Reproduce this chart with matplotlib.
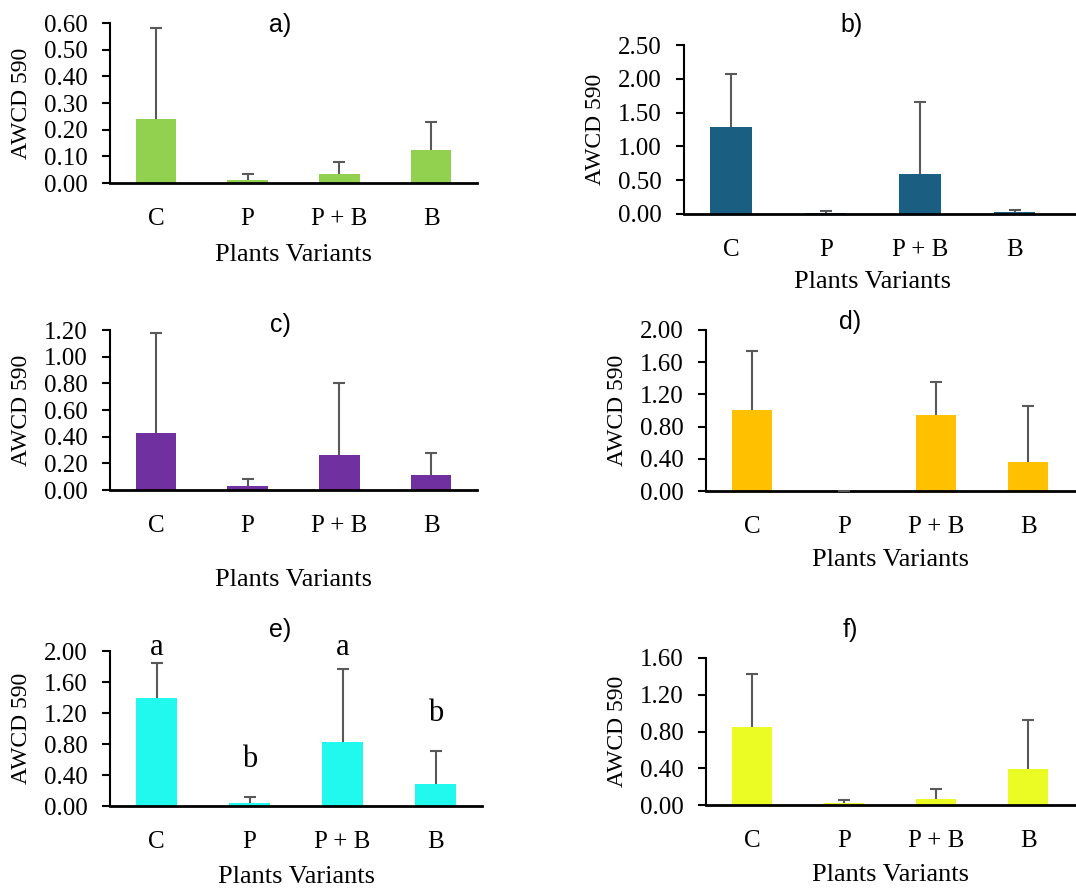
import matplotlib
matplotlib.use("Agg")
import matplotlib.pyplot as plt

categories = ["C", "P", "P + B", "B"]

# values and upper error-bar lengths
vals_a = [0.24, 0.012, 0.035, 0.125]
err_a = [0.34, 0.023, 0.043, 0.105]
vals_b = [1.28, 0.01, 0.59, 0.03]
err_b = [0.79, 0.03, 1.06, 0.03]
vals_c = [0.43, 0.03, 0.26, 0.115]
err_c = [0.745, 0.05, 0.54, 0.165]
vals_d = [1.01, 0.0, 0.95, 0.36]
err_d = [0.73, 0.0, 0.40, 0.69]
vals_e = [1.39, 0.04, 0.83, 0.29]
err_e = [0.45, 0.07, 0.94, 0.42]
letters_e = ["a", "b", "a", "b"]
letter_y_e = [2.05, 0.60, 2.05, 1.20]
vals_f = [0.85, 0.02, 0.065, 0.39]
err_f = [0.58, 0.03, 0.105, 0.54]

colors = {"a": "#92D050", "b": "#1A5F82", "c": "#7030A0",
          "d": "#FFC000", "e": "#22F9EE", "f": "#EBFC24"}

W, H = 1076, 888
fig = plt.figure(figsize=(W / 100, H / 100), dpi=100)
serif = ["Liberation Serif", "DejaVu Serif"]
sans = ["Liberation Sans", "DejaVu Sans"]

# panel specs: pixel box (left, right, top, bottom), ylim, ticks, xlim upper, title pos (px), xlabel y (px)
panels = [
    ("a", vals_a, err_a, (110, 477, 23, 183), 0.60, [0, 0.1, 0.2, 0.3, 0.4, 0.5, 0.6], 3.5, (280, 25), 255),
    ("b", vals_b, err_b, (684, 1076, 45, 214), 2.50, [0, 0.5, 1.0, 1.5, 2.0, 2.5], 3.65, (852, 25), 282),
    ("c", vals_c, err_c, (110, 477, 330, 490), 1.20, [0, 0.2, 0.4, 0.6, 0.8, 1.0, 1.2], 3.5, (280, 325), 580),
    ("d", vals_d, err_d, (706, 1076, 330, 491), 2.00, [0, 0.4, 0.8, 1.2, 1.6, 2.0], 3.52, (850, 322), 560),
    ("e", vals_e, err_e, (110, 482, 651, 806), 2.00, [0, 0.4, 0.8, 1.2, 1.6, 2.0], 3.5, (280, 630), 877),
    ("f", vals_f, err_f, (706, 1076, 658, 805), 1.60, [0, 0.4, 0.8, 1.2, 1.6], 3.52, (850, 630), 875),
]

for key, vals, errs, (l, r, t, b), ymax, ticks, xup, (tx, ty), xly in panels:
    ax = fig.add_axes([l / W, 1 - b / H, (r - l) / W, (b - t) / H])
    x = list(range(len(categories)))
    ax.bar(x, vals, width=0.44, color=colors[key], zorder=2)
    _, caps, _ = ax.errorbar(x, vals, yerr=[[0] * len(vals), errs], fmt="none",
                             ecolor="#595959", elinewidth=1.5, capsize=4,
                             capthick=1.5, zorder=3)
    if len(caps) == 2:
        caps[0].set_visible(False)
    ax.set_xlim(-0.5, xup)
    ax.set_ylim(0, ymax)
    ax.set_yticks(ticks)
    ax.set_yticklabels([f"{v:.2f}" for v in ticks], fontfamily=serif, fontsize=18)
    ax.set_xticks(x)
    ax.set_xticklabels(categories, fontfamily=serif, fontsize=18)
    ax.tick_params(axis="x", length=0, pad=18)
    ax.tick_params(axis="y", length=6, width=1.5, pad=10, direction="out")
    for s in ["top", "right"]:
        ax.spines[s].set_visible(False)
    ax.spines["left"].set_linewidth(1.5)
    ax.spines["bottom"].set_linewidth(2)
    ax.set_ylabel("AWCD 590", fontfamily=serif, fontsize=17, labelpad=9)
    ax.patch.set_alpha(0)
    cx = (l + (l + (r - l) * 4.0 / (xup + 0.5))) / 2
    fig.text(cx / W, 1 - xly / H, "Plants Variants", fontfamily=serif, fontsize=19,
             ha="center", va="center")
    fig.text(tx / W, 1 - ty / H, f"{key})", fontfamily=sans, fontsize=18,
             ha="center", va="center")
    if key == "e":
        for xi, lab, ly in zip(x, letters_e, letter_y_e):
            ax.text(xi, ly, lab, fontfamily=serif, fontsize=22, ha="center", va="center",
                    clip_on=False)

fig.savefig("out.png", dpi=100)
